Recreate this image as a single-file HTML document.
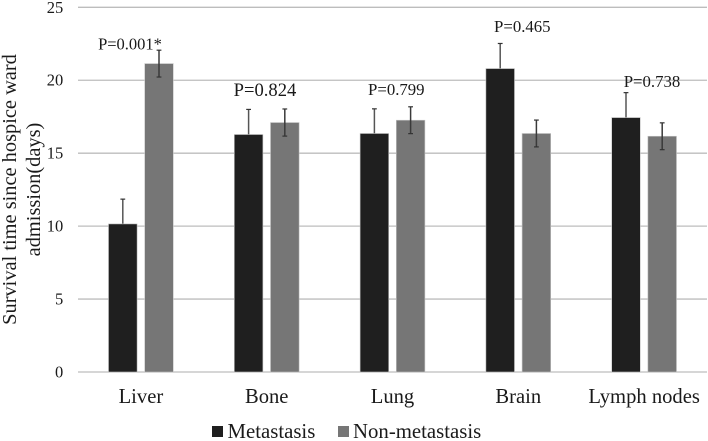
<!DOCTYPE html>
<html lang="en">
<head>
<meta charset="utf-8">
<title>Survival time chart</title>
<style>
html,body{margin:0;padding:0;background:#fff;width:708px;height:441px;overflow:hidden}
svg{display:block}
text{font-family:"Liberation Serif",serif;fill:#1a1a1a}
</style>
</head>
<body>
<svg id="chart" xmlns="http://www.w3.org/2000/svg" width="708" height="441" viewBox="0 0 708 441">
  <g id="grid"></g>
  <g id="ticks"></g>
  <g id="errorsBehind"></g>
  <g id="bars"></g>
  <g id="errorsFront"></g>
  <g id="cats"></g>
  <g font-size="20.4" text-anchor="middle">
    <text transform="translate(16,189.5) rotate(-90)">Survival time since hospice ward</text>
    <text transform="translate(40,189.5) rotate(-90)">admission(days)</text>
  </g>
  <g text-anchor="middle">
    <text x="130" y="49.5" font-size="16.5">P=0.001*</text>
    <text x="265" y="96" font-size="18.6">P=0.824</text>
    <text x="396.3" y="95" font-size="16.8">P=0.799</text>
    <text x="522.3" y="32" font-size="16.8">P=0.465</text>
    <text x="652" y="87" font-size="16.8">P=0.738</text>
  </g>
  <g>
    <g>
      <rect x="212" y="426" width="11" height="11" fill="#1f1f1f"></rect>
      <text x="227.5" y="438" font-size="20.8">Metastasis</text>
    </g>
    <g>
      <rect x="338" y="426" width="11" height="11" fill="#767676"></rect>
      <text x="353" y="438" font-size="20.8">Non-metastasis</text>
    </g>
  </g>
</svg>
<script>
const categories = ["Liver", "Bone", "Lung", "Brain", "Lymph nodes"];
const metastasis = [10.15, 16.28, 16.35, 20.8, 17.44];
const nonMetastasis = [21.14, 17.1, 17.26, 16.35, 16.16];
const metastasisError = [1.7, 1.72, 1.69, 1.72, 1.71];
const nonMetastasisError = [0.92, 0.93, 0.92, 0.92, 0.92];
const yTicks = [0, 5, 10, 15, 20, 25];

const NS = "http://www.w3.org/2000/svg";
const plotLeft = 78, plotRight = 707, plotBottom = 372, plotTop = 7.3, yMax = 25;
const barWidth = 28.6, barOffset = 18.1;

function yScale(v) { return plotBottom - (v / yMax) * (plotBottom - plotTop); }
function xScale(i) { return plotLeft + (i + 0.5) * (plotRight - plotLeft) / categories.length; }
function make(tag, attrs, parent) {
  const el = document.createElementNS(NS, tag);
  for (const k in attrs) el.setAttribute(k, attrs[k]);
  parent.appendChild(el);
  return el;
}

const grid = document.getElementById("grid");
const ticks = document.getElementById("ticks");
yTicks.forEach(function (t) {
  const line = make("line", { x1: plotLeft, x2: plotRight, y1: yScale(t), y2: yScale(t), stroke: "#bdbdbd", "stroke-width": 1.3 }, grid);
  
  
  const label = make("text", { x: 63.3, y: yScale(t) + 5.5, "text-anchor": "end", "font-size": 16.5 }, ticks);
  
  
  label.textContent = t;
});

const bars = document.getElementById("bars");
function drawSeries(values, errs, offset, color, whisker, errorGroup) {
  values.forEach(function (v, i) {
    const cx = xScale(i) + offset;
    const bar = make("rect", { x: cx - barWidth / 2, y: yScale(v), width: barWidth, height: plotBottom - yScale(v), fill: color, stroke: "#c4c4c4", "stroke-width": 0.6 }, bars);
    
    
    const hi = yScale(v + errs[i]), lo = yScale(v - errs[i]);
    const stem = make("line", { x1: cx, x2: cx, y1: hi, y2: lo, stroke: whisker, "stroke-width": 1.5 }, errorGroup);
    
    
    const capTop = make("line", { x1: cx - 2.4, x2: cx + 2.4, y1: hi, y2: hi, stroke: "#333", "stroke-width": 1.2 }, errorGroup);
    
    
    const capBottom = make("line", { x1: cx - 2.4, x2: cx + 2.4, y1: lo, y2: lo, stroke: "#333", "stroke-width": 1.2 }, errorGroup);
    
    
  });
}
drawSeries(metastasis, metastasisError, -barOffset, "#1f1f1f", "#555555", document.getElementById("errorsBehind"));
drawSeries(nonMetastasis, nonMetastasisError, barOffset, "#767676", "#3a3a3a", document.getElementById("errorsFront"));

const cats = document.getElementById("cats");
categories.forEach(function (c, i) {
  const label = make("text", { x: xScale(i), y: 403, "text-anchor": "middle", "font-size": 20.6 }, cats);
  
  
  label.textContent = c;
});
</script>
</body>
</html>
